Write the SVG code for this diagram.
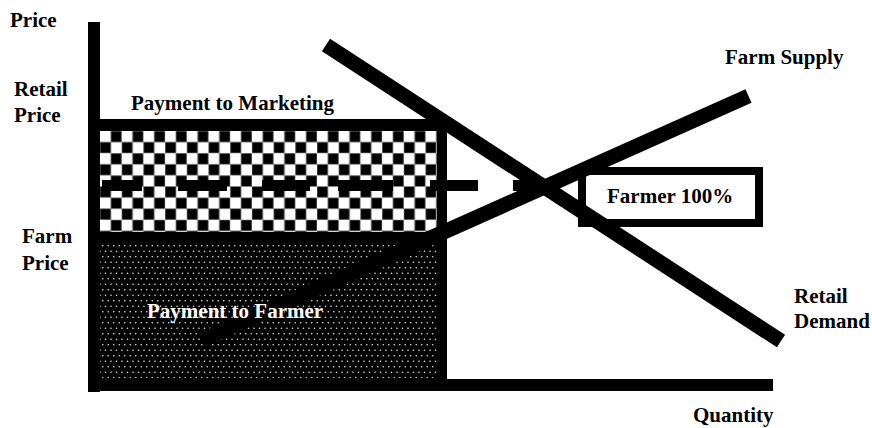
<svg xmlns="http://www.w3.org/2000/svg" width="872" height="428" viewBox="0 0 872 428">
  <style>
    .lbl { font-family: "Liberation Serif", "Times New Roman", serif; font-weight: bold; font-size: 21px; fill: #000; }
    .wlbl { font-family: "Liberation Serif", "Times New Roman", serif; font-weight: bold; font-size: 21px; fill: #fff; }
    .curve { stroke: #000; stroke-width: 15; stroke-linecap: butt; fill: none; }
    .bar { fill: #000; }
  </style>
  <defs>
    <pattern id="checker" patternUnits="userSpaceOnUse" x="100" y="131" width="21.7" height="22.2">
      <rect x="0" y="0" width="21.7" height="22.2" fill="#fff"/>
      <rect x="10.85" y="0" width="10.85" height="11.1" fill="#000" stroke="#888" stroke-width="0.8"/>
      <rect x="0" y="11.1" width="10.85" height="11.1" fill="#000" stroke="#888" stroke-width="0.8"/>
    </pattern>
    <pattern id="dots" patternUnits="userSpaceOnUse" x="100" y="243" width="11" height="11">
      <rect x="0" y="0" width="11" height="11" fill="#000"/>
      <circle cx="2.75" cy="2.75" r="0.8" fill="#e0e0e0"/>
      <circle cx="8.25" cy="2.75" r="0.8" fill="#e0e0e0"/>
      <circle cx="0" cy="8.25" r="0.8" fill="#e0e0e0"/>
      <circle cx="5.5" cy="8.25" r="0.8" fill="#e0e0e0"/>
      <circle cx="11" cy="8.25" r="0.8" fill="#e0e0e0"/>
    </pattern>
  </defs>

  <g id="marketing-area">
    <rect x="100" y="131" width="337" height="101" fill="url(#checker)"/>
  </g>
  <g id="farmer-area">
    <rect x="100" y="232" width="337" height="147" fill="#000"/>
    <rect x="100" y="243" width="337" height="135" fill="url(#dots)"/>
  </g>

  <g id="axes">
    <rect class="bar" x="88" y="22" width="12" height="370"/>
    <rect class="bar" x="88" y="379" width="685" height="12"/>
    <rect class="bar" x="88" y="119" width="360" height="12"/>
    <rect class="bar" x="437" y="119" width="10" height="272"/>
  </g>

  <g id="farmer-box">
    <rect x="582" y="171" width="177" height="52" fill="#fff" stroke="#000" stroke-width="8"/>
    <text class="lbl" x="607" y="203">Farmer 100%</text>
  </g>

  <g id="connectors">
    <g id="price-dash">
      <rect class="bar" x="102" y="180" width="40" height="11"/>
      <rect class="bar" x="178" y="180" width="49" height="11"/>
      <rect class="bar" x="262" y="180" width="48" height="11"/>
      <rect class="bar" x="338" y="180" width="55" height="11"/>
      <rect class="bar" x="430" y="180" width="48" height="11"/>
      <rect class="bar" x="513" y="180" width="47" height="11"/>
    </g>
    <line id="farm-supply" class="curve" x1="202" y1="340" x2="748.5" y2="96"/>
    <line id="retail-demand" class="curve" x1="326" y1="45" x2="781" y2="341"/>
  </g>

  <g id="labels">
    <text class="lbl" x="10" y="27">Price</text>
    <text class="lbl" x="14" y="96">Retail</text>
    <text class="lbl" x="14" y="122">Price</text>
    <text class="lbl" x="22" y="243">Farm</text>
    <text class="lbl" x="22" y="270">Price</text>
    <text class="lbl" x="131" y="110">Payment to Marketing</text>
    <text class="wlbl" x="147" y="318">Payment to Farmer</text>
    <text class="lbl" x="725" y="64">Farm Supply</text>
    <text class="lbl" x="794" y="303">Retail</text>
    <text class="lbl" x="794" y="328">Demand</text>
    <text class="lbl" x="693" y="422">Quantity</text>
  </g>
</svg>
